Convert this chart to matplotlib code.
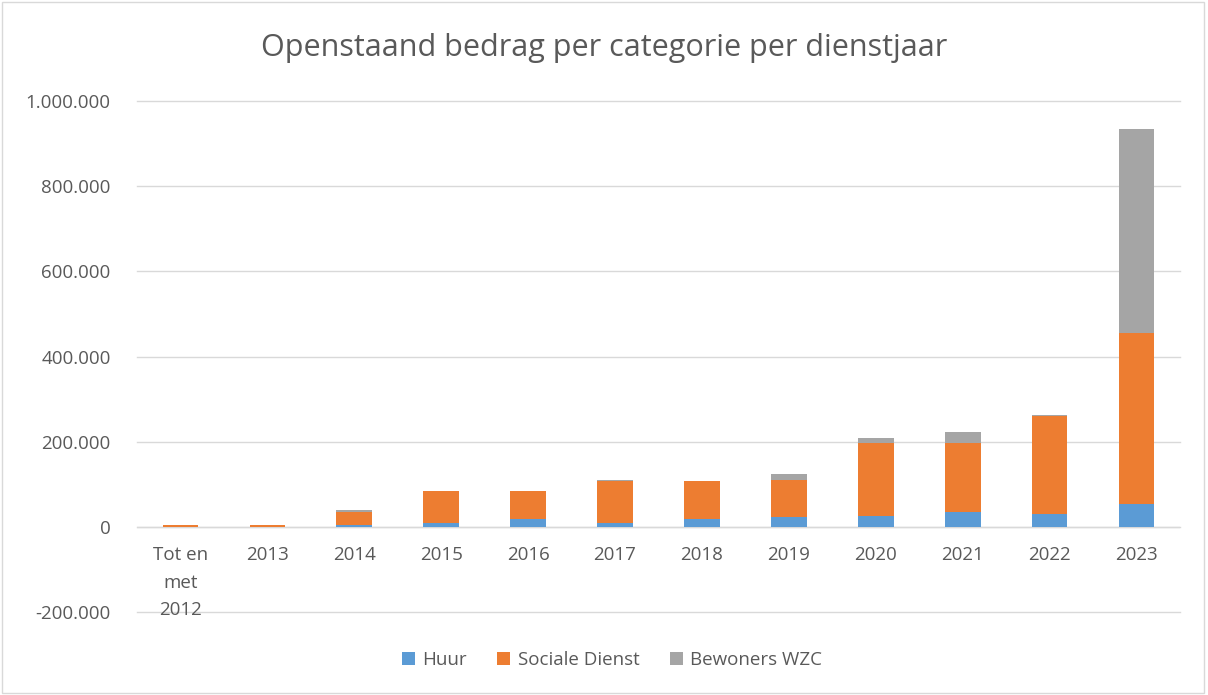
import matplotlib.pyplot as plt
from matplotlib.patches import Rectangle
from matplotlib.ticker import FuncFormatter
import numpy as np

categories = ["Tot en\nmet\n2012", "2013", "2014", "2015", "2016", "2017",
              "2018", "2019", "2020", "2021", "2022", "2023"]
huur = [0, 0, 4000, 8700, 18000, 8700, 18000, 22000, 26500, 35200, 30500, 53300]
sociale_dienst = [4000, 4000, 30500, 75800, 66500, 99300, 89000, 89000,
                  170000, 161300, 230100, 402800]
bewoners_wzc = [0, 0, 4500, 0, 0, 3000, 0, 13400, 13100, 25800, 3000, 477400]

blue, orange, grey = "#5B9BD5", "#ED7D31", "#A5A5A5"
txt = "#595959"
plt.rcParams["font.family"] = ["Open Sans", "DejaVu Sans"]

fig = plt.figure(figsize=(12.08, 6.95), dpi=100)
ax = fig.add_axes([137 / 1208, 1 - 612 / 695, (1180 - 137) / 1208, (612 - 101) / 695])

x = np.arange(len(categories))
w = 0.41
h = np.array(huur)
s = np.array(sociale_dienst)
b = np.array(bewoners_wzc)
ax.bar(x, h, w, color=blue, label="Huur", zorder=3)
ax.bar(x, s, w, bottom=h, color=orange, label="Sociale Dienst", zorder=3)
ax.bar(x, b, w, bottom=h + s, color=grey, label="Bewoners WZC", zorder=3)

ax.set_xlim(-0.5, len(categories) - 0.5)
ax.set_ylim(-200000, 1000000)
ax.set_yticks(np.arange(-200000, 1000001, 200000))
ax.yaxis.set_major_formatter(FuncFormatter(lambda v, p: f"{int(v):,}".replace(",", ".")))
ax.grid(axis="y", color="#d9d9d9", linewidth=1, zorder=0)
for gl in ax.get_ygridlines():
    gl.set_clip_on(False)
for sp in ax.spines.values():
    sp.set_visible(False)
ax.axhline(0, color="#d9d9d9", linewidth=1, zorder=1)
ax.tick_params(axis="y", length=0, pad=19, labelsize=13.5, labelcolor=txt)
ax.set_xticks([])
# categorie-labels net onder de nul-lijn
for i, c in enumerate(categories):
    ax.text(i, -46000, c, ha="center", va="top", fontsize=13.5, color=txt,
            linespacing=1.68)

fig.text(0.5, 1 - 48 / 695, "Openstaand bedrag per categorie per dienstjaar",
         ha="center", va="center", fontsize=22, color=txt)
fig.legend(loc="center", bbox_to_anchor=(612 / 1208, 1 - 660 / 695), ncol=3,
           frameon=False, fontsize=13.5, labelcolor=txt, handlelength=0.7,
           handleheight=0.7, handletextpad=0.4, columnspacing=1.6)

fig.patches.append(Rectangle((0.002, 0.003), 0.995, 0.994, transform=fig.transFigure,
                             fill=False, edgecolor="#d9d9d9", linewidth=1))

plt.savefig("out.png", dpi=100)
plt.close()
